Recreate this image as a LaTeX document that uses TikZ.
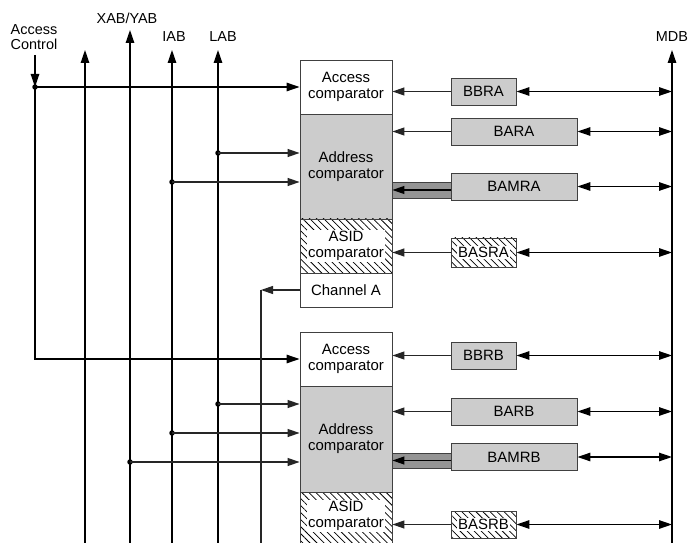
\documentclass[tikz,border=0pt]{standalone}
\usepackage{fontspec}
\setmainfont{Liberation Sans}
\usetikzlibrary{arrows.meta,patterns.meta}
\tikzset{
    cmp-box/.style = {draw=black!75, line width=0.9pt, rectangle, minimum width=92bp, inner sep=0pt, align=center, font=\fontsize{15}{16}\selectfont},
    reg-box/.style = {draw=black!75, fill=black!20, line width=0.9pt, rectangle, minimum height=27bp, inner sep=0pt, font=\fontsize{15}{16}\selectfont},
    hatch/.style = {pattern={Lines[angle=-45,distance=5pt,line width=0.75pt]}, pattern color=black},
    hatch-text/.style = {fill=white, inner sep=1.5pt, align=center, font=\fontsize{15}{16}\selectfont},
    bus-label/.style = {align=center, inner sep=0pt, font=\fontsize{14.5}{14.5}\selectfont},
    bus/.style = {line width=1.3pt, -{Triangle[length=13bp,width=8.5bp]}},
    arr/.style = {line width=1.2pt, black!85, -{Triangle[length=12bp,width=8bp]}},
    dbl-arr/.style = {line width=1.3pt, {Triangle[length=13bp,width=8.5bp]}-{Triangle[length=13bp,width=8.5bp]}},
    tap-dot/.style = {circle, fill=black, inner sep=0pt, minimum size=5.5bp},
}
\begin{document}
\begin{tikzpicture}[x=1bp, y=-1bp]
\clip (0,0) rectangle (688,543);
\fill[white] (0,0) rectangle (688,543);

\node[bus-label] (ac-label) at (34,37) {Access\\Control};
\node[bus-label] (xab-label) at (127,18) {XAB/YAB};
\node[bus-label] (iab-label) at (174,37) {IAB};
\node[bus-label] (lab-label) at (223,37) {LAB};
\node[bus-label] (mdb-label) at (672,37) {MDB};

\coordinate (ac-top) at (35,55);
\coordinate (b1-top) at (85,50);
\coordinate (b1-bot) at (85,550);
\coordinate (xab-top) at (130,30);
\coordinate (xab-bot) at (130,550);
\coordinate (iab-top) at (172,50);
\coordinate (iab-bot) at (172,550);
\coordinate (lab-top) at (218,50);
\coordinate (lab-bot) at (218,550);
\coordinate (mdb-top) at (672,50);
\coordinate (mdb-bot) at (672,550);
\coordinate (chan-bend) at (261,290);
\coordinate (chan-bot) at (261,550);

\node[cmp-box, minimum height=54bp] (acc-a) at (346,87) {Access\\comparator};
\node[cmp-box, fill=black!20, minimum height=105bp] (addr-a) at (346,166.5) {Address\\comparator};
\node[cmp-box, hatch, minimum height=54bp] (asid-a) at (346,246) {};
\node[hatch-text] (asid-a-t) at (asid-a) {ASID\\comparator};
\node[cmp-box, minimum height=34bp] (chan-a) at (346,290) {Channel A};

\node[cmp-box, minimum height=54bp] (acc-b) at (346,359) {Access\\comparator};
\node[cmp-box, fill=black!20, minimum height=106bp] (addr-b) at (346,439) {Address\\comparator};
\node[cmp-box, hatch, minimum height=54bp] (asid-b) at (346,519) {};
\node[hatch-text] (asid-b-t) at ([yshift=3bp]asid-b.center) {ASID\\comparator};

\node[reg-box, minimum width=65bp] (bbra) at (483.5,91.5) {BBRA};
\node[reg-box, minimum width=126bp] (bara) at (514,131.5) {BARA};
\node[reg-box, minimum width=126bp] (bamra) at (514,186.5) {BAMRA};
\node[reg-box, fill=none, hatch, minimum width=65bp, minimum height=29bp] (basra) at (483.5,252.5) {};
\node[hatch-text, inner sep=1pt] (basra-t) at (basra) {BASRA};

\node[reg-box, minimum width=65bp] (bbrb) at (483.5,355.5) {BBRB};
\node[reg-box, minimum width=126bp] (barb) at (514,411.5) {BARB};
\node[reg-box, minimum width=126bp] (bamrb) at (514,457) {BAMRB};
\node[reg-box, fill=none, hatch, minimum width=65bp, minimum height=27bp] (basrb) at (483.5,524.5) {};
\node[hatch-text, inner sep=1pt] (basrb-t) at (basrb) {BASRB};

\draw[bus] (b1-bot) -- (b1-top);
\draw[bus] (xab-bot) -- (xab-top);
\draw[bus] (iab-bot) -- (iab-top);
\draw[bus] (lab-bot) -- (lab-top);
\draw[bus] (mdb-bot) -- (mdb-top);

\node[tap-dot] (ac-tap) at (35,87) {};
\draw[bus] (ac-top) -- (ac-tap.center);
\draw[bus] (ac-tap.center) -- (acc-a.west);
\draw[bus] (ac-tap.center) |- (acc-b.west);

\node[tap-dot] (lab-a) at (218,153) {};
\node[tap-dot] (iab-a) at (172,182) {};
\draw[arr] (lab-a.center) -- (lab-a -| addr-a.west);
\draw[arr] (iab-a.center) -- (iab-a -| addr-a.west);

\node[tap-dot] (lab-b) at (218,404) {};
\node[tap-dot] (iab-b) at (172,433) {};
\node[tap-dot] (xab-b) at (130,462) {};
\draw[arr] (lab-b.center) -- (lab-b -| addr-b.west);
\draw[arr] (iab-b.center) -- (iab-b -| addr-b.west);
\draw[arr] (xab-b.center) -- (xab-b -| addr-b.west);

\draw[arr] (chan-a.west) -- (chan-bend);
\draw[line width=1.2pt, black!85] (chan-bend) -- (chan-bot);

\draw[arr] (bbra.west) -- (bbra.west -| acc-a.east);
\draw[arr] (bara.west) -- (bara.west -| addr-a.east);
\draw[arr] (basra.west) -- (basra.west -| asid-a.east);
\draw[arr] (bbrb.west) -- (bbrb.west -| acc-b.east);
\draw[arr] (barb.west) -- (barb.west -| addr-b.east);
\draw[arr] (basrb.west) -- (basrb.west -| asid-b.east);

\filldraw[fill=black!42, draw=black!75, line width=0.9pt] (392,182) rectangle (451,198);
\coordinate (band-a) at (451,190);
\draw[arr, black] (band-a) -- (band-a -| addr-a.east);
\filldraw[fill=black!42, draw=black!75, line width=0.9pt] (392,453) rectangle (451,468);
\coordinate (band-b) at (451,460.5);
\draw[arr, black] (band-b) -- (band-b -| addr-b.east);

\draw[dbl-arr] (bbra.east) -- (bbra.east -| mdb-top);
\draw[dbl-arr] (bara.east) -- (bara.east -| mdb-top);
\draw[dbl-arr] (bamra.east) -- (bamra.east -| mdb-top);
\draw[dbl-arr] (basra.east) -- (basra.east -| mdb-top);
\draw[dbl-arr] (bbrb.east) -- (bbrb.east -| mdb-top);
\draw[dbl-arr] (barb.east) -- (barb.east -| mdb-top);
\draw[dbl-arr] (bamrb.east) -- (bamrb.east -| mdb-top);
\draw[dbl-arr] (basrb.east) -- (basrb.east -| mdb-top);
\end{tikzpicture}
\end{document}
